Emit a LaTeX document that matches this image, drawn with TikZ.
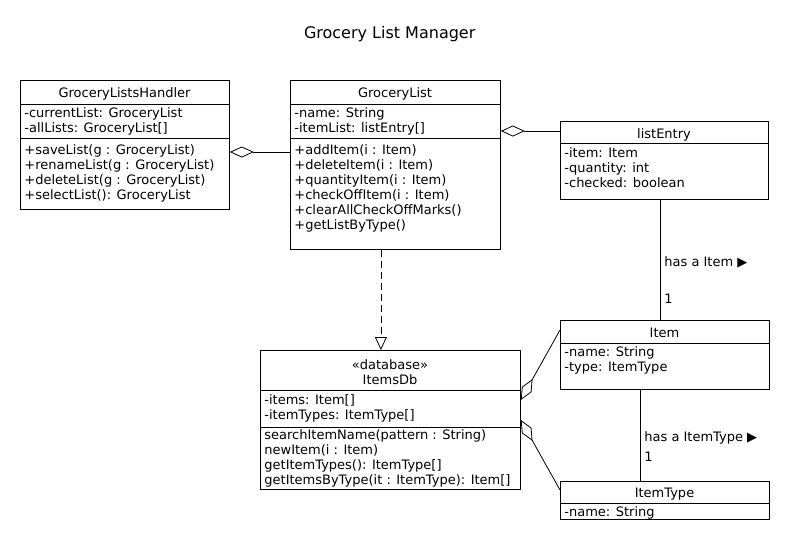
\documentclass[tikz,border=0pt]{standalone}
\usepackage{fontspec}
\setmainfont{DejaVu Sans}
\usetikzlibrary{arrows.meta}

\begin{document}
\begin{tikzpicture}[x=1pt, y=-1pt, line width=0.8pt,
        every node/.style={font=\fontsize{13}{15}\selectfont},
        box/.style={draw, anchor=north west, inner sep=0pt},
        head/.style={anchor=base, inner sep=0pt},
        rows/.style={anchor=north west, align=left, inner sep=0pt, execute at begin node=\strut},
        lbl/.style={anchor=base west, inner sep=0pt},
        agg/.style={{Diamond[open, length=24pt, width=11pt]}-},
        real/.style={dash pattern=on 7pt off 4pt, -{Triangle[open, length=13pt, width=12pt]}}]
    \useasboundingbox (0,0) rectangle (800,550);

    \node[head, font=\fontsize{16}{19}\selectfont] (title) at (389.7,38) {Grocery List Manager};

    % GroceryListsHandler
    \node[box, minimum width=209pt, minimum height=129pt] (glh) at (20,80) {};
    \draw ([yshift=-24pt]glh.north west) -- ([yshift=-24pt]glh.north east)
          ([yshift=-58pt]glh.north west) -- ([yshift=-58pt]glh.north east);
    \node[head] (glh-n) at (124.5,97.5) {GroceryListsHandler};
    \node[rows] (glh-a) at (24,107.5) {-currentList: GroceryList\\-allLists: GroceryList[]};
    \node[rows] (glh-m) at (24,144) {+saveList(g : GroceryList)\\+renameList(g : GroceryList)\\
        +deleteList(g : GroceryList)\\+selectList(): GroceryList};

    % GroceryList
    \node[box, minimum width=210pt, minimum height=169pt] (gl) at (290,80) {};
    \draw ([yshift=-24pt]gl.north west) -- ([yshift=-24pt]gl.north east)
          ([yshift=-58pt]gl.north west) -- ([yshift=-58pt]gl.north east);
    \node[head] (gl-n) at (395,97.5) {GroceryList};
    \node[rows] (gl-a) at (294,107.5) {-name: String\\-itemList: listEntry[]};
    \node[rows] (gl-m) at (294,144.5) {+addItem(i : Item)\\+deleteItem(i : Item)\\+quantityItem(i : Item)\\
        +checkOffItem(i : Item)\\+clearAllCheckOffMarks()\\+getListByType()};

    % listEntry
    \node[box, minimum width=208pt, minimum height=78pt] (le) at (560,121) {};
    \draw ([yshift=-22pt]le.north west) -- ([yshift=-22pt]le.north east);
    \node[head] (le-n) at (664,138) {listEntry};
    \node[rows] (le-a) at (564,147.2) {-item: Item\\-quantity: int\\-checked: boolean};

    % ItemsDb
    \node[box, minimum width=260pt, minimum height=139pt] (db) at (260,350) {};
    \draw ([yshift=-40pt]db.north west) -- ([yshift=-40pt]db.north east)
          ([yshift=-77pt]db.north west) -- ([yshift=-77pt]db.north east);
    \node[head] (db-s) at (390,369) {«database»};
    \node[head] (db-n) at (390,384) {ItemsDb};
    \node[rows] (db-a) at (264,394.5) {-items: Item[]\\-itemTypes: ItemType[]};
    \node[rows] (db-m) at (264,429.5) {searchItemName(pattern : String)\\newItem(i : Item)\\
        getItemTypes(): ItemType[]\\getItemsByType(it : ItemType): Item[]};

    % Item
    \node[box, minimum width=209pt, minimum height=69pt] (item) at (560,320) {};
    \draw ([yshift=-23pt]item.north west) -- ([yshift=-23pt]item.north east);
    \node[head] (item-n) at (664.5,337.5) {Item};
    \node[rows] (item-a) at (564,346.5) {-name: String\\-type: ItemType};

    % ItemType
    \node[box, minimum width=209pt, minimum height=38pt] (itype) at (560,481) {};
    \draw ([yshift=-22pt]itype.north west) -- ([yshift=-22pt]itype.north east);
    \node[head] (itype-n) at (664.5,497.5) {ItemType};
    \node[rows] (itype-a) at (564,506) {-name: String};

    % connectors
    \draw[agg] ([yshift=-72pt]glh.north east) -- ([yshift=-72pt]gl.north west);
    \draw[agg] ([yshift=-51pt]gl.north east) -- ([yshift=-10pt]le.north west);
    \draw[real] ([xshift=-14.5pt]gl.south) -- ([xshift=-9.5pt]db.north);
    \draw[agg] ([yshift=-50pt]db.north east) -- ([yshift=-10pt]item.north west);
    \draw[agg] ([yshift=-70pt]db.north east) -- ([yshift=-9pt]itype.north west);

    \coordinate (le-b) at (660.5,199);
    \draw (le-b) -- (le-b |- item.north);
    \node[lbl] (has-item) at (664,266.5) {has a Item ▶};
    \node[lbl] (one-item) at (664,303) {1};

    \coordinate (item-b) at (640,389);
    \draw (item-b) -- (item-b |- itype.north);
    \node[lbl] (has-type) at (644,441) {has a ItemType ▶};
    \node[lbl] (one-type) at (644,461.5) {1};
\end{tikzpicture}
\end{document}
